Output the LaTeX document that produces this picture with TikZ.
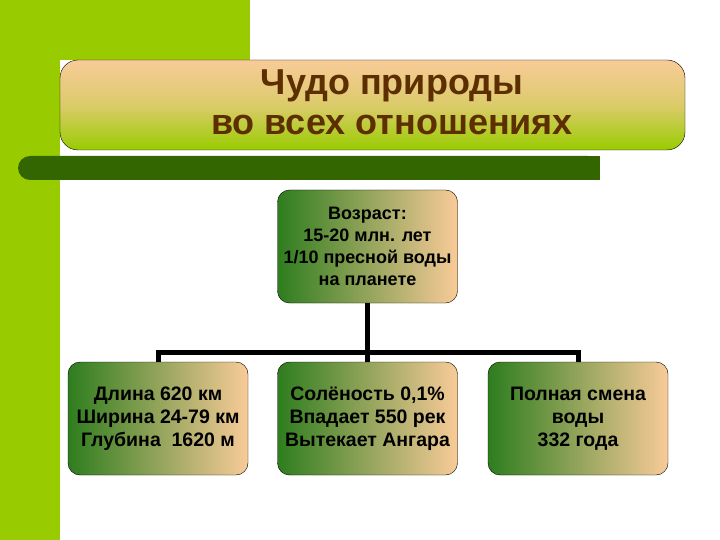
\documentclass[tikz,border=0pt]{standalone}
\usepackage{fontspec}
\setmainfont{Liberation Sans}
\definecolor{lime}{HTML}{99CC00}
\definecolor{dgreen}{HTML}{336600}
\definecolor{peach}{HTML}{F8CB98}
\definecolor{bgreen}{HTML}{2E7D1E}
\definecolor{brown}{HTML}{5C2E00}
\tikzset{
  box/.style={draw=black, rounded corners=12pt, left color=bgreen, right color=peach, minimum width=180pt, minimum height=113pt, align=center, font=\bfseries\fontsize{19.5}{23}\selectfont, inner sep=0pt},
  conn/.style={line width=5pt}
}
\begin{document}
\begin{tikzpicture}[x=1pt,y=-1pt]
\useasboundingbox (0,0) rectangle (720,540);
\fill[white] (0,0) rectangle (720,540);
\fill[lime] (0,0) rectangle (250,60);
\fill[lime] (0,0) rectangle (60,540);
\fill[dgreen, rounded corners=12pt] (18,156) rectangle (600,180);
\fill[dgreen] (40,156) rectangle (600,180);
\node[draw=black, rounded corners=18pt, top color=peach, bottom color=lime, middle color=peach!70!lime, shading angle=0, minimum width=625pt, minimum height=90pt, inner sep=0pt] (title) at (372.5,105) {};
\node[font=\bfseries\fontsize{36}{40}\selectfont, text=brown, align=center] (tt) at (392,102) {Чудо природы\\во всех отношениях};
\node[box, font=\bfseries\fontsize{18}{22}\selectfont] (top) at (367.5,246.5) {Возраст:\\15-20 млн. лет\\1/10 пресной воды\\на планете};
\node[box] (b1) at (158,418.5) {Длина 620 км\\Ширина 24-79 км\\Глубина \ 1620 м};
\node[box] (b2) at (367.5,418.5) {Солёность 0,1\%\\Впадает 550 рек\\Вытекает Ангара};
\node[box] (b3) at (578,418.5) {Полная смена\\воды\\332 года};
\coordinate (j) at (367.5,352);
\draw[conn] (top.south) -- (j);
\draw[conn] (b1.north) -- (b1.north |- j) -- (b3.north |- j) -- (b3.north);
\draw[conn] (j) -- (b2.north);
\end{tikzpicture}
\end{document}
